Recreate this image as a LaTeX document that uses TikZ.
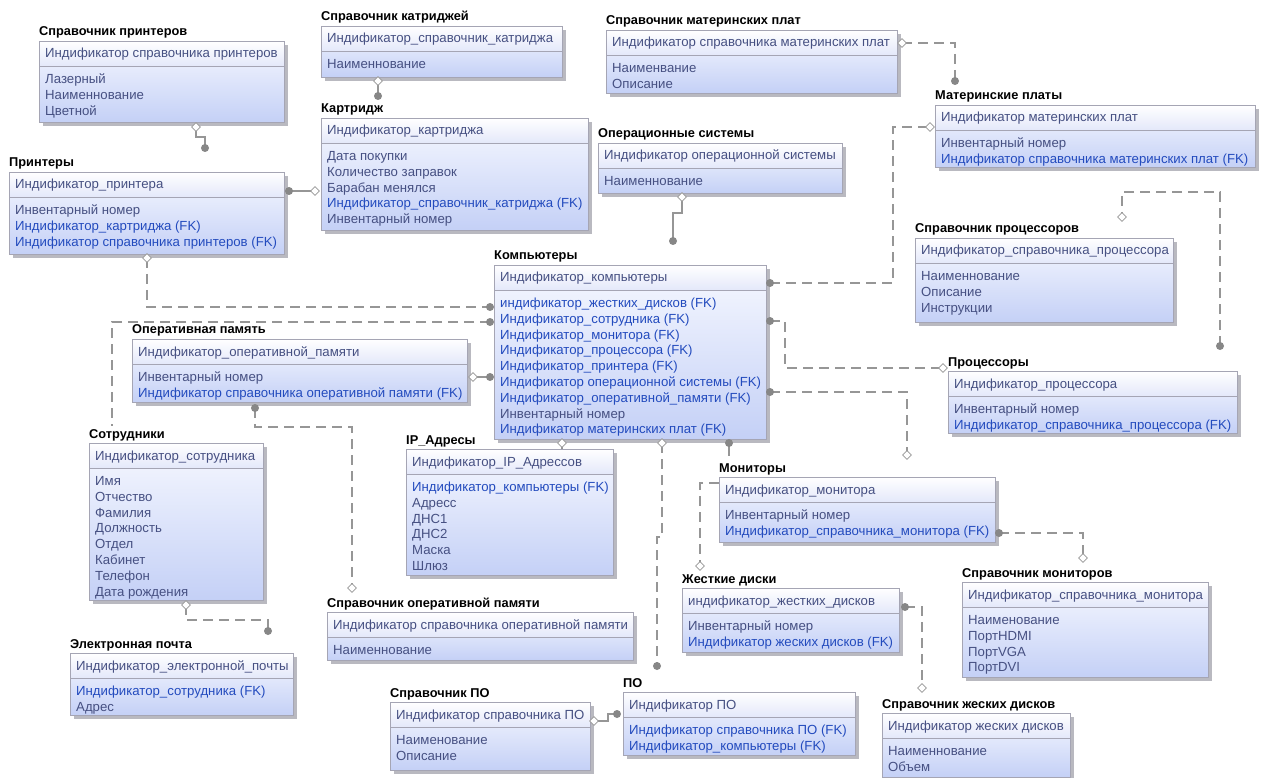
\documentclass[tikz,border=0pt]{standalone}
\usepackage{fontspec}
\setmainfont{Liberation Sans}
\usetikzlibrary{shapes.geometric}
\definecolor{bordc}{RGB}{165,165,180}
\definecolor{shadc}{RGB}{185,185,192}
\definecolor{bodytop}{RGB}{246,248,255}
\definecolor{bodybot}{RGB}{196,208,246}
\definecolor{hdrbot}{RGB}{228,232,250}
\definecolor{nfc}{RGB}{70,80,130}
\definecolor{fkc}{RGB}{35,75,190}
\definecolor{linec}{RGB}{150,150,150}
\definecolor{dotc}{RGB}{135,135,135}
\newcommand\fk{\color{fkc}}
\tikzset{
 ebox/.style={draw=bordc, line width=0.8pt, inner sep=0pt, top color=bodytop, bottom color=bodybot},
 hdrfill/.style={top color=white, bottom color=hdrbot},
 ttl/.style={font=\fontsize{12.8}{14}\selectfont\bfseries, inner sep=0pt, text=black},
 hdr/.style={font=\fontsize{13.2}{14}\selectfont, inner sep=0pt, text=nfc},
 attr/.style={font=\fontsize{13.2}{14}\selectfont, inner sep=0pt, text=nfc},
 rel/.style={draw=linec, line width=1.2pt, dash pattern=on 10pt off 6pt},
 idrel/.style={draw=linec, line width=1.2pt},
 fil/.style={circle, fill=dotc, inner sep=0pt, minimum size=8pt},
 hol/.style={diamond, draw=linec, fill=white, line width=0.8pt, inner sep=0pt, minimum size=9pt},
}
\newcommand\erent[8]{%
 \fill[shadc] (#2+4,#3+4) rectangle ++(#4,#5);
 \node[ebox, minimum width=#4pt, minimum height=#5pt, anchor=north west] (#1) at (#2,#3) {};
 \path[hdrfill] (#1.north west) rectangle ([yshift=-25pt]#1.north east);
 \draw[bordc, line width=0.8pt] ([yshift=-25pt]#1.north west) -- ([yshift=-25pt]#1.north east);
 \draw[bordc, line width=0.8pt] (#1.north west) rectangle (#1.south east);
 \node[ttl, anchor=base west] (#1-t) at (#2,#3-5) {#6};
 \node[hdr, anchor=base west] (#1-h) at (#2+6,#3+17) {#7};
 \foreach \t [count=\i] in {#8} {\node[attr, anchor=base west] (#1-a\i) at (#2+6,#3+42.5+\i*15.8-15.8) {\t};}
}
\begin{document}
\begin{tikzpicture}[x=1pt,y=-1pt]
\fill[white] (0,0) rectangle (1267,778);
\useasboundingbox (0,0) rectangle (1267,778);
% connector end points
\coordinate (h1) at (196,127); \coordinate (f1) at (205,148);
\coordinate (h2) at (378,81); \coordinate (f2) at (378,96);
\coordinate (f3) at (289,191); \coordinate (h3) at (315,191);
\coordinate (h4) at (902,43); \coordinate (f4) at (955,81);
\coordinate (h5) at (682,197); \coordinate (f5) at (673,241);
\coordinate (f6) at (770,283); \coordinate (h6) at (930,127);
\coordinate (f7) at (770,321); \coordinate (h7) at (943,368);
\coordinate (f8) at (770,392); \coordinate (h8) at (907,455);
\coordinate (f9) at (1220,346); \coordinate (h9) at (1122,217);
\coordinate (h10) at (147,258); \coordinate (f10) at (490,307);
\coordinate (f11) at (490,322); \coordinate (e11) at (112,426);
\coordinate (h12) at (473,377); \coordinate (f12) at (490,377);
\coordinate (f13) at (255,408); \coordinate (h13) at (352,588);
\coordinate (h14) at (186,605); \coordinate (f14) at (268,631);
\coordinate (h15) at (562,443); \coordinate (e15) at (562,449);
\coordinate (h16) at (662,443); \coordinate (f16) at (657,666);
\coordinate (f17) at (729,443); \coordinate (e17) at (729,456);
\coordinate (e18) at (719,483); \coordinate (h18) at (700,566);
\coordinate (f19) at (999,533); \coordinate (h19) at (1083,558);
\coordinate (f20) at (905,607); \coordinate (h20) at (922,688);
\coordinate (h21) at (594,721); \coordinate (f21) at (617,714);
% connectors
\draw[idrel] (h1) -- (196,137) -- (205,137) -- (f1);
\draw[idrel] (h2) -- (f2);
\draw[idrel] (f3) -- (h3);
\draw[rel] (h4) -| (f4);
\draw[idrel] (h5) -- (682,213) -- (673,213) -- (f5);
\draw[rel] (f6) -- (893,283) |- (h6);
\draw[rel] (f7) -- (785,321) |- (h7);
\draw[rel] (f8) -| (h8);
\draw[rel] (f9) -- (1220,192) -| (h9);
\draw[rel] (h10) |- (f10);
\draw[rel] (f11) -| (e11);
\draw[idrel] (h12) -- (f12);
\draw[rel] (f13) -- (255,427) -| (h13);
\draw[rel] (h14) -- (186,620) -| (f14);
\draw[idrel] (h15) -- (e15);
\draw[rel] (h16) -- (662,537) -- (657,537) -- (f16);
\draw[idrel] (f17) -- (e17);
\draw[rel] (e18) -| (h18);
\draw[rel] (f19) -| (h19);
\draw[rel] (f20) -| (h20);
\draw[idrel] (h21) -- (608,721) -- (608,714) -- (f21);
% entities
\erent{sprn}{39}{41}{245}{81}{Справочник принтеров}{Индификатор справочника принтеров}{Лазерный,Наименнование,Цветной}
\erent{prn}{9}{172}{275}{82}{Принтеры}{Индификатор\_принтера}{Инвентарный номер,\fk Индификатор\_картриджа (FK),\fk Индификатор справочника принтеров (FK)}
\erent{skat}{321}{26}{241}{51}{Справочник катриджей}{Индификатор\_справочник\_катриджа}{Наименнование}
\erent{kart}{321}{118}{267}{112}{Картридж}{Индификатор\_картриджа}{Дата покупки,Количество заправок,Барабан менялся,\fk Индификатор\_справочник\_катриджа (FK),Инвентарный номер}
\erent{smat}{606}{30}{291}{63}{Справочник материнских плат}{Индификатор справочника материнских плат}{Наименвание,Описание}
\erent{mat}{935}{105}{320}{62}{Материнские платы}{Индификатор материнских плат}{Инвентарный номер,\fk Индификатор справочника материнских плат (FK)}
\erent{os}{598}{143}{244}{50}{Операционные системы}{Индификатор операционной системы}{Наименнование}
\erent{comp}{494}{265}{272}{174}{Компьютеры}{Индификатор\_компьютеры}{\fk индификатор\_жестких\_дисков (FK),\fk Индификатор\_сотрудника (FK),\fk Индификатор\_монитора (FK),\fk Индификатор\_процессора (FK),\fk Индификатор\_принтера (FK),\fk Индификатор операционной системы (FK),\fk Индификатор\_оперативной\_памяти (FK),Инвентарный номер,\fk Индификатор материнских плат (FK)}
\erent{ram}{132}{339}{335}{63}{Оперативная память}{Индификатор\_оперативной\_памяти}{Инвентарный номер,\fk Индификатор справочника оперативной памяти (FK)}
\erent{emp}{89}{443}{174}{157}{Сотрудники}{Индификатор\_сотрудника}{Имя,Отчество,Фамилия,Должность,Отдел,Кабинет,Телефон,Дата рождения}
\erent{mail}{70}{653}{223}{62}{Электронная почта}{Индификатор\_электронной\_почты}{\fk Индификатор\_сотрудника (FK),Адрес}
\erent{ip}{406}{449}{207}{126}{IP\_Адресы}{Индификатор\_IP\_Адрессов}{\fk Индификатор\_компьютеры (FK),Адресс,ДНС1,ДНС2,Маска,Шлюз}
\erent{mon}{719}{477}{276}{65}{Мониторы}{Индификатор\_монитора}{Инвентарный номер,\fk Индификатор\_справочника\_монитора (FK)}
\erent{cpu}{948}{371}{289}{62}{Процессоры}{Индификатор\_процессора}{Инвентарный номер,\fk Индификатор\_справочника\_процессора (FK)}
\erent{scpu}{915}{238}{258}{84}{Справочник процессоров}{Индификатор\_справочника\_процессора}{Наименнование,Описание,Инструкции}
\erent{sram}{327}{612}{306}{48}{Справочник оперативной памяти}{Индификатор справочника оперативной памяти}{Наименнование}
\erent{hdd}{682}{588}{217}{64}{Жесткие диски}{индификатор\_жестких\_дисков}{Инвентарный номер,\fk Индификатор жеских дисков (FK)}
\erent{smon}{962}{582}{246}{95}{Справочник мониторов}{Индификатор\_справочника\_монитора}{Наименование,ПортHDMI,ПортVGA,ПортDVI}
\erent{shdd}{882}{713}{188}{64}{Справочник жеских дисков}{Индификатор жеских дисков}{Наименнование,Объем}
\erent{spo}{390}{702}{200}{68}{Справочник ПО}{Индификатор справочника ПО}{Наименование,Описание}
\erent{po}{623}{692}{232}{63}{ПО}{Индификатор ПО}{\fk Индификатор справочника ПО (FK),\fk Индификатор\_компьютеры (FK)}
% end symbols
\foreach \k in {1,2,3,4,5,6,7,8,9,10,12,13,14,15,16,18,19,20,21} {\node[hol] (H\k) at (h\k) {};}
\foreach \k in {1,2,3,4,5,6,7,8,9,10,11,12,13,14,16,17,19,20,21} {\node[fil] (F\k) at (f\k) {};}
\end{tikzpicture}
\end{document}
